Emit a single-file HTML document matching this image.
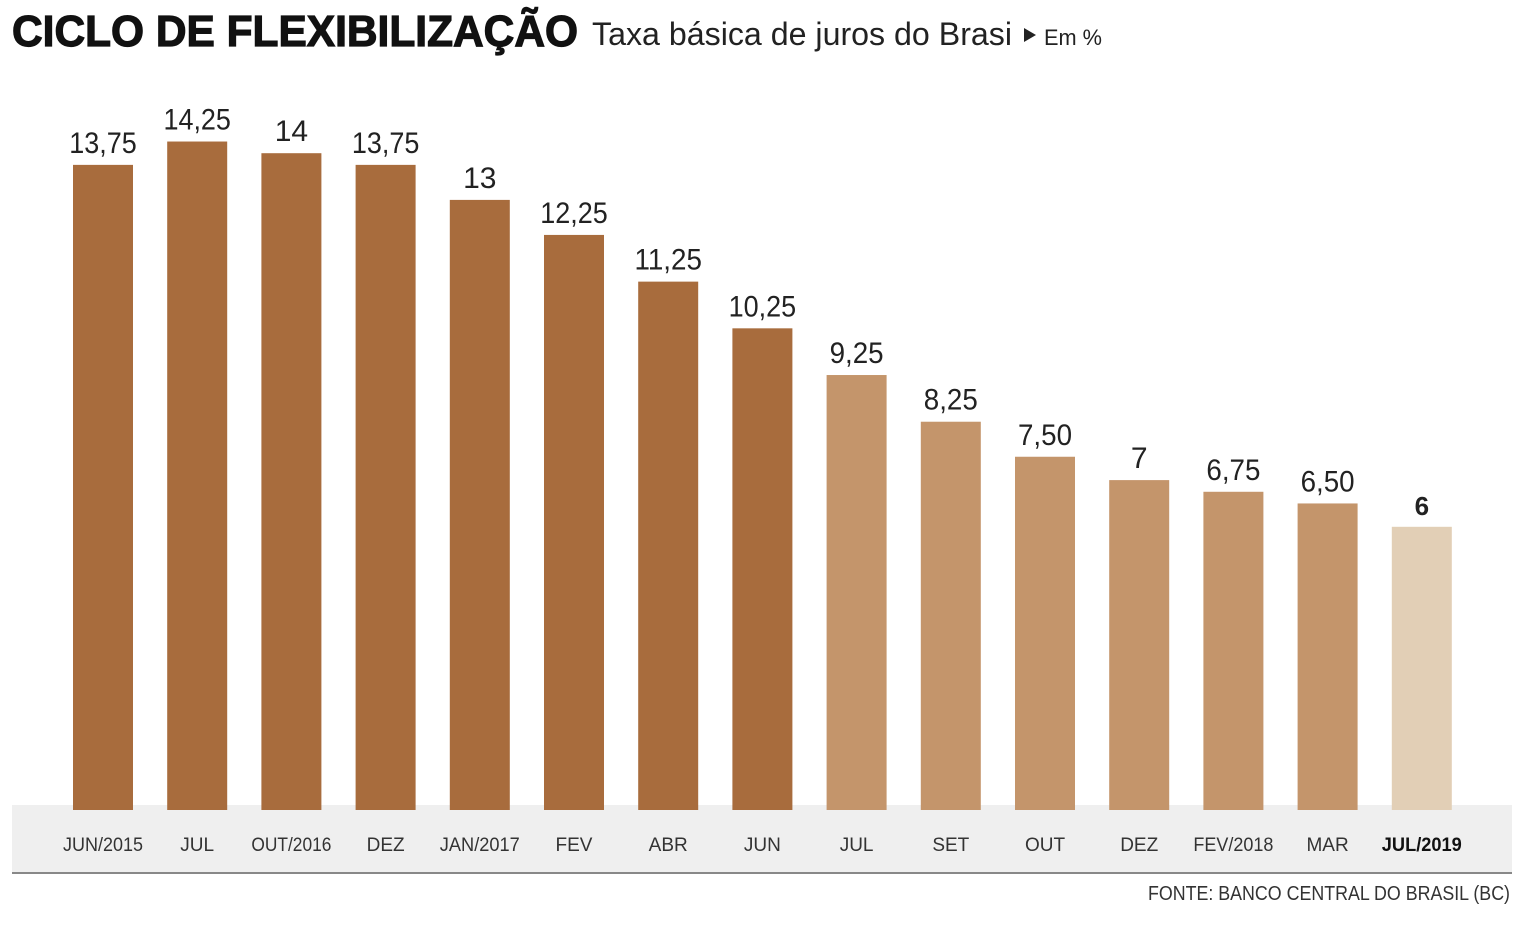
<!DOCTYPE html>
<html><head><meta charset="utf-8"><style>
html,body{margin:0;padding:0;background:#fff;}
svg{display:block;}
</style></head><body>
<svg width="1520" height="946" xmlns="http://www.w3.org/2000/svg" font-family="'Liberation Sans', sans-serif">
<rect x="0" y="0" width="1520" height="946" fill="#fff"/>
<text x="12" y="46" font-size="44" font-weight="bold" fill="#111" stroke="#111" stroke-width="1.2" textLength="566" lengthAdjust="spacingAndGlyphs">CICLO DE FLEXIBILIZAÇÃO</text>
<text x="592" y="45" font-size="32" fill="#222" textLength="420" lengthAdjust="spacingAndGlyphs">Taxa básica de juros do Brasi</text>
<polygon points="1024,28 1024,42 1036,35" fill="#222"/>
<text x="1044" y="45" font-size="22" fill="#222" textLength="58" lengthAdjust="spacingAndGlyphs">Em %</text>
<rect x="12" y="805" width="1500" height="67" fill="#efefef"/>
<rect x="12" y="872" width="1500" height="2" fill="#888"/>
<g id="bars"></g>
<text x="1510" y="900" font-size="20" fill="#333" text-anchor="end" textLength="362" lengthAdjust="spacingAndGlyphs">FONTE: BANCO CENTRAL DO BRASIL (BC)</text>
</svg>
<script>
const d=[["JUN/2015",13.75,"13,75"],["JUL",14.25,"14,25"],["OUT/2016",14,"14"],["DEZ",13.75,"13,75"],["JAN/2017",13,"13"],["FEV",12.25,"12,25"],["ABR",11.25,"11,25"],["JUN",10.25,"10,25"],["JUL",9.25,"9,25"],["SET",8.25,"8,25"],["OUT",7.5,"7,50"],["DEZ",7,"7"],["FEV/2018",6.75,"6,75"],["MAR",6.5,"6,50"],["JUL/2019",6,"6"]];
const g=document.getElementById('bars');let s='';
d.forEach((b,i)=>{const x=73+i*94.2,top=807-b[1]*46.7;const c=i<8?'#a86c3d':(i<14?'#c4956b':'#e2cfb6');
const cx=x+30;const last=i==14;
s+=`<rect x="${x}" y="${top}" width="60" height="${810-top}" fill="${c}"/>`;
s+=`<text x="${cx}" y="${top-12}" font-size="${last?26:30}" ${last?'font-weight="bold"':''} fill="#222" text-anchor="middle" ${b[2].length>2?`textLength="${b[2].length*13.5}" lengthAdjust="spacingAndGlyphs"`:''}>${b[2]}</text>`;
s+=`<text x="${cx}" y="851" font-size="19" ${last?'font-weight="bold" fill="#111"':'fill="#333"'} text-anchor="middle" ${b[0].length>3?`textLength="${b[0].length*10}" lengthAdjust="spacingAndGlyphs"`:''}>${b[0]}</text>`;});
g.innerHTML=s;
</script>
</body></html>
